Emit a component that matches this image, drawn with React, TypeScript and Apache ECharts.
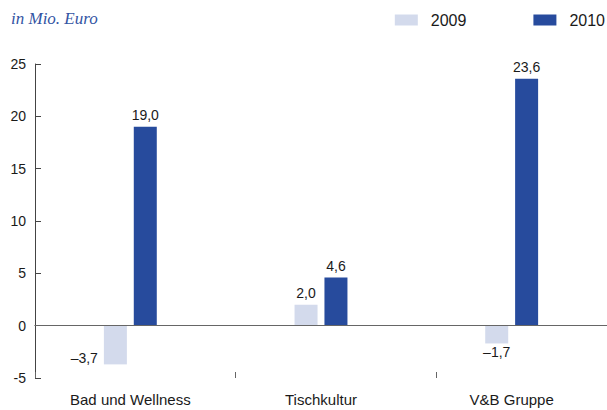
import React, { useEffect, useRef } from "react";
import * as echarts from "echarts";

const categories = ["Bad und Wellness", "Tischkultur", "V&B Gruppe"];
const values2009 = [-3.7, 2.0, -1.7];
const values2010 = [19.0, 4.6, 23.6];
const seriesNames = ["2009", "2010"];
const titleText = "in Mio. Euro";

const fmt = (v: number) => {
  const s = Math.abs(v).toFixed(1).replace(".", ",");
  return v < 0 ? "\u2013" + s : s;
};

const labelFont = { fontFamily: "Liberation Sans, Arial, sans-serif", fontSize: 14, color: "#1a1a1a" };

export default function App() {
  const ref = useRef<HTMLDivElement>(null);
  useEffect(() => {
    if (!ref.current) return;
    const chart = echarts.init(ref.current, undefined, { renderer: "svg" });
    const data2009 = values2009.map((v, i) => {
      if (v >= 0) return v;
      if (i === 0) {
        return { value: v, label: { position: "left", distance: 6, offset: [0, 13] } };
      }
      return { value: v, label: { position: "bottom", distance: 2 } };
    });
    chart.setOption({
      animation: false,
      backgroundColor: "#ffffff",
      title: {
        text: titleText,
        left: 11,
        top: 10,
        padding: 0,
        textStyle: {
          fontFamily: "Liberation Serif, Times New Roman, serif",
          fontStyle: "italic",
          fontWeight: "normal",
          fontSize: 17,
          color: "#3254a3",
        },
      },
      legend: {
        data: seriesNames,
        right: 2,
        top: 12,
        padding: 0,
        icon: "rect",
        itemWidth: 23,
        itemHeight: 11,
        itemGap: 67,
        textStyle: {
          fontFamily: "Liberation Sans, Arial, sans-serif",
          fontSize: 16,
          color: "#1a1a1a",
          padding: [0, 0, 0, 8],
        },
      },
      grid: { left: 35, top: 64, width: 576, bottom: 32, containLabel: false },
      xAxis: [
        {
          type: "category",
          data: categories,
          axisLine: { show: true, lineStyle: { color: "#222", width: 1 } },
          axisTick: { show: false },
          axisLabel: {
            margin: 14,
            fontFamily: "Liberation Sans, Arial, sans-serif",
            fontSize: 15,
            color: "#1a1a1a",
          },
        },
        {
          type: "value",
          position: "bottom",
          min: 0,
          max: 576,
          interval: 202,
          axisLine: { show: false },
          axisTick: { show: true, inside: true, length: 6, lineStyle: { color: "#666" } },
          axisLabel: { show: false },
          splitLine: { show: false },
        },
      ],
      yAxis: {
        type: "value",
        min: -5,
        max: 25,
        interval: 5,
        axisLine: { show: true, onZero: false, lineStyle: { color: "#444", width: 1 } },
        axisTick: { show: true, inside: true, length: 6, lineStyle: { color: "#444" } },
        axisLabel: {
          margin: 9,
          formatter: (v: number) => String(v),
          ...labelFont,
        },
        splitLine: { show: false },
      },
      series: [
        {
          name: seriesNames[0],
          type: "bar",
          xAxisIndex: 0,
          data: data2009,
          barWidth: 23,
          barGap: "30%",
          itemStyle: { color: "#d3daec" },
          label: {
            show: true,
            position: "top",
            distance: 5,
            formatter: (p: any) => fmt(p.value),
            ...labelFont,
          },
        },
        {
          name: seriesNames[1],
          type: "bar",
          xAxisIndex: 0,
          data: values2010,
          barWidth: 23,
          barGap: "30%",
          itemStyle: { color: "#274b9d" },
          label: {
            show: true,
            position: "top",
            distance: 5,
            formatter: (p: any) => fmt(p.value),
            ...labelFont,
          },
          markLine: {
            silent: true,
            symbol: "none",
            label: { show: false },
            lineStyle: { color: "#666", width: 1, type: "solid" },
            data: [{ yAxis: 0 }],
          },
        },
      ],
    });
    return () => chart.dispose();
  }, []);
  return <div ref={ref} style={{ width: 607, height: 410, position: "absolute", left: 0, top: 0 }} />;
}
